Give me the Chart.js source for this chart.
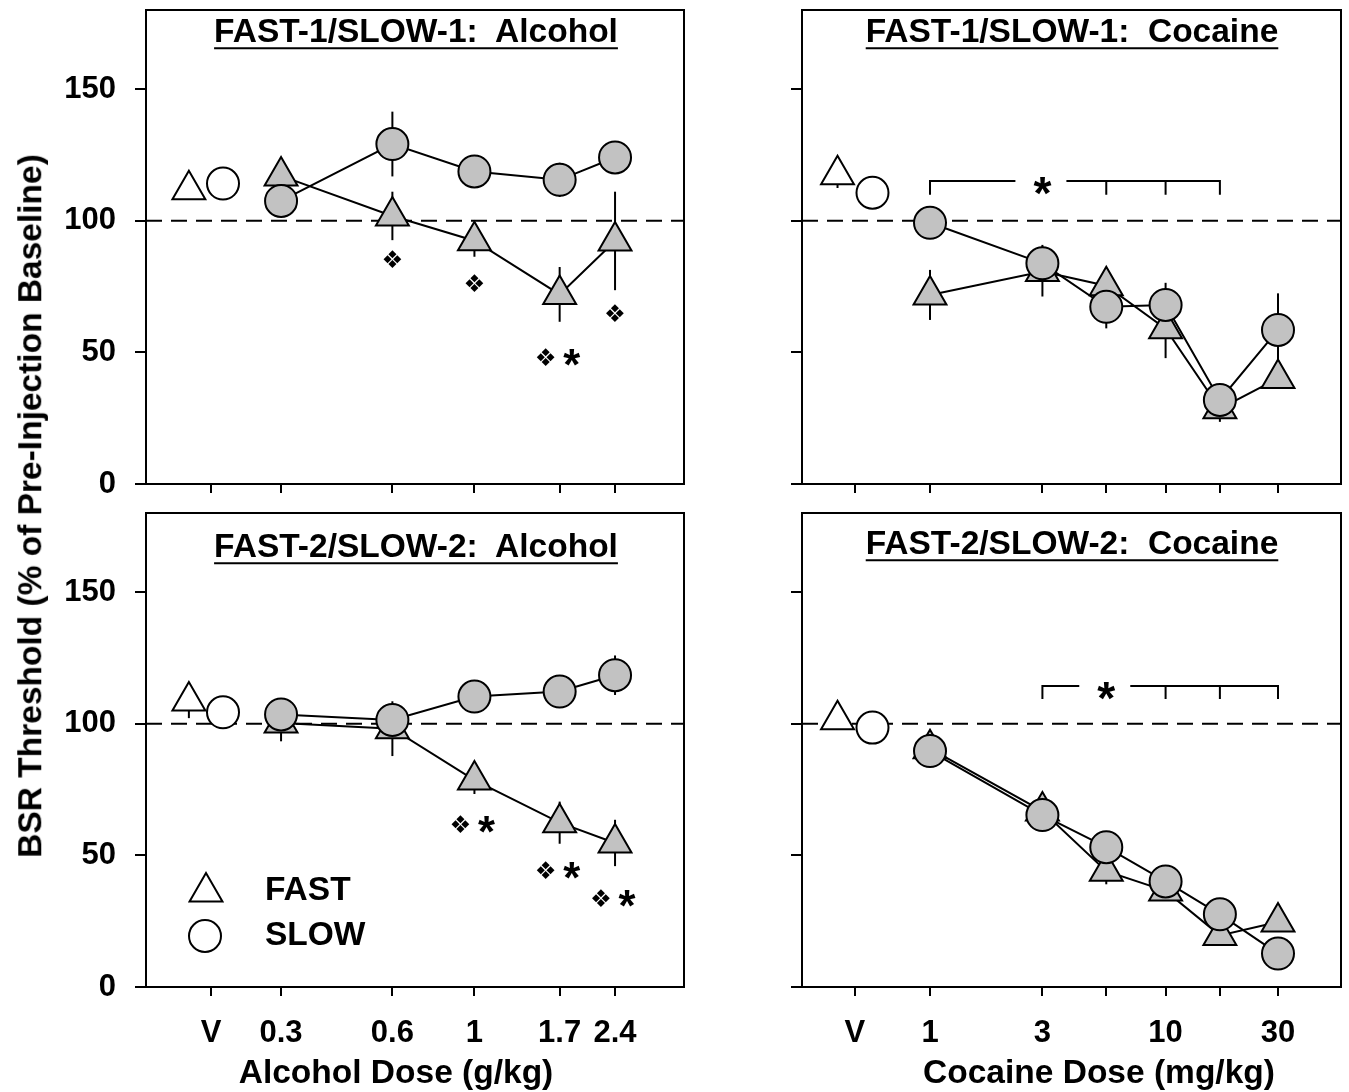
<!DOCTYPE html>
<html>
<head>
<meta charset="utf-8">
<script src="https://cdn.jsdelivr.net/npm/chart.js@4.4.1/dist/chart.umd.min.js"></script>
<style>
html,body{margin:0;padding:0;background:#fff;}
#wrap{position:relative;width:1349px;height:1092px;overflow:hidden;background:#fff;font-family:'Liberation Sans',Arial,sans-serif;}
canvas{position:absolute;}
.t{position:absolute;font-weight:bold;white-space:nowrap;color:#000;line-height:1;font-size:33.5px;}
.c{transform:translate(-50%,-50%);}
.u{text-decoration:underline;text-decoration-thickness:2px;text-underline-offset:5px;}
.rot{transform:translate(-50%,-50%) rotate(-90deg);}
</style>
</head>
<body>
<div id="wrap">
  <canvas id="pA" width="700" height="500" style="left:0;top:0;"></canvas>
  <canvas id="pB" width="649" height="500" style="left:700px;top:0;"></canvas>
  <canvas id="pC" width="700" height="592" style="left:0;top:500px;"></canvas>
  <canvas id="pD" width="649" height="592" style="left:700px;top:500px;"></canvas>
  <div class="t c u" style="left:416px;top:31px;">FAST-1/SLOW-1:&nbsp; Alcohol</div>
  <div class="t c u" style="left:1072px;top:31px;">FAST-1/SLOW-1:&nbsp; Cocaine</div>
  <div class="t c u" style="left:416px;top:546px;">FAST-2/SLOW-2:&nbsp; Alcohol</div>
  <div class="t c u" style="left:1072px;top:543px;">FAST-2/SLOW-2:&nbsp; Cocaine</div>
  <div class="t c" style="left:396px;top:1072px;">Alcohol Dose (g/kg)</div>
  <div class="t c" style="left:1099px;top:1072px;">Cocaine Dose (mg/kg)</div>
  <div class="t rot" style="left:30px;top:506px;">BSR Threshold (% of Pre-Injection Baseline)</div>
</div>
<script>
// ---------- categories / ticks ----------
const alcoholDoses = [0.3, 0.6, 1, 1.7, 2.4];
const cocaineDoses = [1, 3, 5.6, 10, 17, 30];
const alcoholTickDoses = [0.194, 0.3, 0.6, 1, 1.7, 2.4];
const alcoholTickLabels = ['V', '0.3', '0.6', '1', '1.7', '2.4'];
const cocaineTickDoses = [0.48, 1, 3, 5.6, 10, 17, 30];
const cocaineTickLabels = ['V', '1', '3', '', '10', '', '30'];
const yTickValues = [0, 50, 100, 150];
const vehicleXAlcohol = [0.169, 0.209];   // FAST, SLOW
const vehicleXCocaine = [0.405, 0.57];    // FAST, SLOW
const legendLabels = ['FAST', 'SLOW'];
const baselineValue = 100;

// ---------- FAST-1/SLOW-1: Alcohol ----------
const alc1FastMean = [117.0, 101.8, 92.4, 72.0, 92.3];
const alc1FastSem  = [2, 9.2, 6.1, 10.4, 18.7];
const alc1SlowMean = [107.5, 129.1, 118.7, 115.5, 124.0];
const alc1SlowSem  = [2, 12.3, 3, 6.5, 3];
const alc1VehMean  = [111.7, 114.1];
const alc1VehSem   = [2, 2];
const alc1Marks    = [[0.6, 85.1, '❖'], [1, 76.3, '❖'], [1.7, 48.2, '❖*'], [2.4, 64.9, '❖']];

// ---------- FAST-1/SLOW-1: Cocaine ----------
const coc1FastMean = [71.8, 80.7, 75.3, 59.0, 28.6, 40.1];
const coc1FastSem  = [9.5, 9.5, 3, 11.2, 5, 3];
const coc1SlowMean = [99.2, 83.8, 67.3, 68.0, 31.9, 58.5];
const coc1SlowSem  = [3, 7, 8.2, 8.4, 3, 13.9];
const coc1VehMean  = [117.4, 110.6];
const coc1VehSem   = [5, 2];
const coc1Bracket  = {from: 1, to: 17, ticks: [1, 5.6, 10, 17], star: 3, y: 115.1, tickEnd: 109.8};

// ---------- FAST-2/SLOW-2: Alcohol ----------
const alc2FastMean = [100.3, 98.1, 78.6, 62.4, 54.7];
const alc2FastSem  = [7, 10.4, 5.3, 8, 8.8];
const alc2SlowMean = [103.5, 101.4, 110.3, 112.2, 118.4];
const alc2SlowSem  = [3, 3, 3, 3, 7.5];
const alc2VehMean  = [108.6, 104.3];
const alc2VehSem   = [6.5, 2];
const alc2Marks    = [[1, 61.7, '❖*'], [1.7, 44.4, '❖*'], [2.4, 33.6, '❖*']];

// ---------- FAST-2/SLOW-2: Cocaine ----------
const coc2FastMean = [90.5, 66.8, 44.0, 36.5, 19.6, 24.7];
const coc2FastSem  = [3, 3, 5, 3, 3, 3];
const coc2SlowMean = [89.6, 65.3, 53.1, 40.1, 27.6, 12.7];
const coc2SlowSem  = [3, 3, 3, 3, 3, 3];
const coc2VehMean  = [101.5, 98.5];
const coc2VehSem   = [2, 2];
const coc2Bracket  = {from: 3, to: 30, ticks: [3, 10, 17, 30], star: 5.6, y: 114.3, tickEnd: 109.4};

// ---------- styling ----------
const FONT = "'Liberation Sans', Arial, sans-serif";
Chart.defaults.font.family = FONT;
Chart.defaults.color = '#000';
const GRAY = '#c2c2c2';
const CIRCLE_R = 16, TRI_R = 19;

function drawMarker(ctx, style, x, y, r, fill) {
  ctx.save();
  ctx.beginPath();
  if (style === 'circle') {
    ctx.arc(x, y, r, 0, Math.PI * 2);
  } else {
    let a = 0;
    ctx.moveTo(x + Math.sin(a) * r, y - Math.cos(a) * r);
    a += 2 * Math.PI / 3;
    ctx.lineTo(x + Math.sin(a) * r, y - Math.cos(a) * r);
    a += 2 * Math.PI / 3;
    ctx.lineTo(x + Math.sin(a) * r, y - Math.cos(a) * r);
    ctx.closePath();
  }
  ctx.fillStyle = fill; ctx.fill();
  ctx.lineWidth = 2; ctx.strokeStyle = '#000'; ctx.stroke();
  ctx.restore();
}

function drawGlyph(ctx, ch, cx, cy, targetW, family, weight) {
  ctx.save();
  ctx.font = weight + ' 100px ' + family;
  let m = ctx.measureText(ch);
  const w100 = (m.actualBoundingBoxRight + m.actualBoundingBoxLeft) || 60;
  const size = 100 * targetW / w100;
  ctx.font = weight + ' ' + size + 'px ' + family;
  m = ctx.measureText(ch);
  ctx.textAlign = 'left';
  ctx.textBaseline = 'alphabetic';
  ctx.fillStyle = '#000';
  const x = cx - (m.actualBoundingBoxRight - m.actualBoundingBoxLeft) / 2;
  const y = cy + (m.actualBoundingBoxAscent - m.actualBoundingBoxDescent) / 2;
  ctx.fillText(ch, x, y);
  ctx.restore();
}

const framePlugin = {
  id: 'frame',
  beforeDatasetsDraw(chart) {
    const {ctx, chartArea: a, scales: {y}} = chart;
    const yy = y.getPixelForValue(baselineValue);
    ctx.save();
    ctx.strokeStyle = '#000'; ctx.lineWidth = 2; ctx.setLineDash([16, 9]);
    ctx.beginPath(); ctx.moveTo(a.left, yy); ctx.lineTo(a.right, yy); ctx.stroke();
    ctx.setLineDash([]);
    // error bars
    chart.data.datasets.forEach((ds) => {
      (ds.data || []).forEach((p, i) => {
        const e = ds.errors ? ds.errors[i] : 0;
        if (!e) return;
        const px = chart.scales.x.getPixelForValue(p.x);
        ctx.beginPath();
        ctx.moveTo(px, y.getPixelForValue(p.y + e));
        ctx.lineTo(px, y.getPixelForValue(p.y - e));
        ctx.stroke();
      });
    });
    ctx.restore();
  },
  afterDraw(chart) {
    const {ctx, chartArea: a} = chart;
    ctx.save();
    ctx.strokeStyle = '#000'; ctx.lineWidth = 2;
    ctx.strokeRect(a.left, a.top, a.right - a.left, a.bottom - a.top);
    ctx.restore();
  }
};

const notesPlugin = {
  id: 'notes',
  afterDatasetsDraw(chart, args, opts) {
    const {ctx, scales: {x, y}, chartArea: a} = chart;
    const cfg = chart.config.options.panel;
    (cfg.marks || []).forEach(([d, v, t]) => {
      const cx = x.getPixelForValue(d), cy = y.getPixelForValue(v);
      if (t === '❖') {
        drawGlyph(ctx, '❖', cx, cy, 18, "'DejaVu Sans'", 'normal');
      } else {
        drawGlyph(ctx, '❖', cx - 14, cy, 18, "'DejaVu Sans'", 'normal');
        drawGlyph(ctx, '*', cx + 12, cy, 17, FONT, 'bold');
      }
    });
    const b = cfg.bracket;
    if (b) {
      const y0 = y.getPixelForValue(b.y), y1 = y.getPixelForValue(b.tickEnd);
      const xs = x.getPixelForValue(b.star);
      ctx.save();
      ctx.strokeStyle = '#000'; ctx.lineWidth = 2;
      ctx.beginPath();
      ctx.moveTo(x.getPixelForValue(b.from), y0); ctx.lineTo(xs - 27, y0);
      ctx.moveTo(xs + 24, y0); ctx.lineTo(x.getPixelForValue(b.to), y0);
      b.ticks.forEach(t => { const tx = x.getPixelForValue(t); ctx.moveTo(tx, y0 - 1); ctx.lineTo(tx, y1); });
      ctx.stroke();
      ctx.restore();
      drawGlyph(ctx, '*', xs, y0 + 5, 18, FONT, 'bold');
    }
    if (cfg.legend) {
      const lx = a.left + 60;
      const ty = a.top + 379, cy2 = a.top + 423;
      drawMarker(ctx, 'triangle', lx, ty, TRI_R, '#fff');
      drawMarker(ctx, 'circle', lx - 1, cy2, CIRCLE_R, '#fff');
      ctx.save();
      ctx.font = 'bold 33.5px ' + FONT;
      ctx.fillStyle = '#000'; ctx.textAlign = 'left'; ctx.textBaseline = 'middle';
      ctx.fillText(legendLabels[0], a.left + 119, ty - 1);
      ctx.fillText(legendLabels[1], a.left + 119, cy2);
      ctx.restore();
    }
  }
};

function makePanel(id, p) {
  const pts = (xs, ys) => xs.map((d, i) => ({x: d, y: ys[i]}));
  const datasets = [
    {data: pts(p.doses, p.slowMean), errors: p.slowSem, showLine: true, pointStyle: 'circle', pointRadius: CIRCLE_R,
     pointBackgroundColor: GRAY, pointBorderColor: '#000', pointBorderWidth: 2, borderColor: '#000', borderWidth: 2, clip: false},
    {data: pts(p.doses, p.fastMean), errors: p.fastSem, showLine: true, pointStyle: 'triangle', pointRadius: TRI_R,
     pointBackgroundColor: GRAY, pointBorderColor: '#000', pointBorderWidth: 2, borderColor: '#000', borderWidth: 2, clip: false},
    {data: [{x: p.vehX[1], y: p.vehMean[1]}], errors: [p.vehSem[1]], showLine: false, pointStyle: 'circle', pointRadius: CIRCLE_R,
     pointBackgroundColor: '#fff', pointBorderColor: '#000', pointBorderWidth: 2, clip: false},
    {data: [{x: p.vehX[0], y: p.vehMean[0]}], errors: [p.vehSem[0]], showLine: false, pointStyle: 'triangle', pointRadius: TRI_R,
     pointBackgroundColor: '#fff', pointBorderColor: '#000', pointBorderWidth: 2, clip: false}
  ];
  new Chart(document.getElementById(id), {
    type: 'scatter',
    data: {datasets},
    options: {
      responsive: false, animation: false, events: [],
      panel: {marks: p.marks, bracket: p.bracket, legend: p.legend},
      layout: {padding: p.padding, autoPadding: false},
      plugins: {legend: {display: false}, title: {display: false}, tooltip: {enabled: false}},
      elements: {point: {hoverRadius: 0}},
      scales: {
        x: {
          type: 'logarithmic', position: 'bottom', min: p.xMin, max: p.xMax,
          afterBuildTicks: s => { s.ticks = p.tickDoses.map(v => ({value: v})); },
          afterFit: s => { s.height = p.xAxisHeight; s.paddingLeft = 0; s.paddingRight = 0; },
          ticks: {autoSkip: false, maxRotation: 0, minRotation: 0, padding: 19, color: '#000',
                  font: {size: 31, weight: 'bold'},
                  callback: (v, i) => p.showXLabels ? p.tickLabels[i] : ''},
          grid: {display: true, drawOnChartArea: false, drawTicks: true, tickLength: 9, color: '#000', lineWidth: 2},
          border: {display: true, color: '#000', width: 2}
        },
        y: {
          type: 'linear', position: 'left', min: 0, max: 180,
          afterBuildTicks: s => { s.ticks = yTickValues.map(v => ({value: v})); },
          afterFit: s => { s.width = p.yAxisWidth; s.paddingTop = 0; s.paddingBottom = 0; },
          ticks: {padding: 19, color: '#000', font: {size: 31, weight: 'bold'},
                  callback: v => p.showYLabels ? String(v) : ''},
          grid: {display: true, drawOnChartArea: false, drawTicks: true, tickLength: 11, color: '#000', lineWidth: 2},
          border: {display: true, color: '#000', width: 2}
        }
      }
    },
    plugins: [framePlugin, notesPlugin]
  });
}

const alcXMin = 0.1294, alcXMax = 3.687, cocXMin = 0.2862, cocXMax = 55.53;

makePanel('pA', {doses: alcoholDoses, fastMean: alc1FastMean, fastSem: alc1FastSem, slowMean: alc1SlowMean, slowSem: alc1SlowSem,
  vehMean: alc1VehMean, vehSem: alc1VehSem, vehX: vehicleXAlcohol, tickDoses: alcoholTickDoses, tickLabels: alcoholTickLabels,
  showXLabels: false, showYLabels: true, xMin: alcXMin, xMax: alcXMax, yAxisWidth: 146, xAxisHeight: 16,
  padding: {top: 10, right: 16, left: 0, bottom: 0}, marks: alc1Marks});

makePanel('pB', {doses: cocaineDoses, fastMean: coc1FastMean, fastSem: coc1FastSem, slowMean: coc1SlowMean, slowSem: coc1SlowSem,
  vehMean: coc1VehMean, vehSem: coc1VehSem, vehX: vehicleXCocaine, tickDoses: cocaineTickDoses, tickLabels: cocaineTickLabels,
  showXLabels: false, showYLabels: false, xMin: cocXMin, xMax: cocXMax, yAxisWidth: 102, xAxisHeight: 16,
  padding: {top: 10, right: 8, left: 0, bottom: 0}, bracket: coc1Bracket});

makePanel('pC', {doses: alcoholDoses, fastMean: alc2FastMean, fastSem: alc2FastSem, slowMean: alc2SlowMean, slowSem: alc2SlowSem,
  vehMean: alc2VehMean, vehSem: alc2VehSem, vehX: vehicleXAlcohol, tickDoses: alcoholTickDoses, tickLabels: alcoholTickLabels,
  showXLabels: true, showYLabels: true, xMin: alcXMin, xMax: alcXMax, yAxisWidth: 146, xAxisHeight: 105,
  padding: {top: 13, right: 16, left: 0, bottom: 0}, marks: alc2Marks, legend: true});

makePanel('pD', {doses: cocaineDoses, fastMean: coc2FastMean, fastSem: coc2FastSem, slowMean: coc2SlowMean, slowSem: coc2SlowSem,
  vehMean: coc2VehMean, vehSem: coc2VehSem, vehX: vehicleXCocaine, tickDoses: cocaineTickDoses, tickLabels: cocaineTickLabels,
  showXLabels: true, showYLabels: false, xMin: cocXMin, xMax: cocXMax, yAxisWidth: 102, xAxisHeight: 105,
  padding: {top: 13, right: 8, left: 0, bottom: 0}, bracket: coc2Bracket});
</script>
</body>
</html>
